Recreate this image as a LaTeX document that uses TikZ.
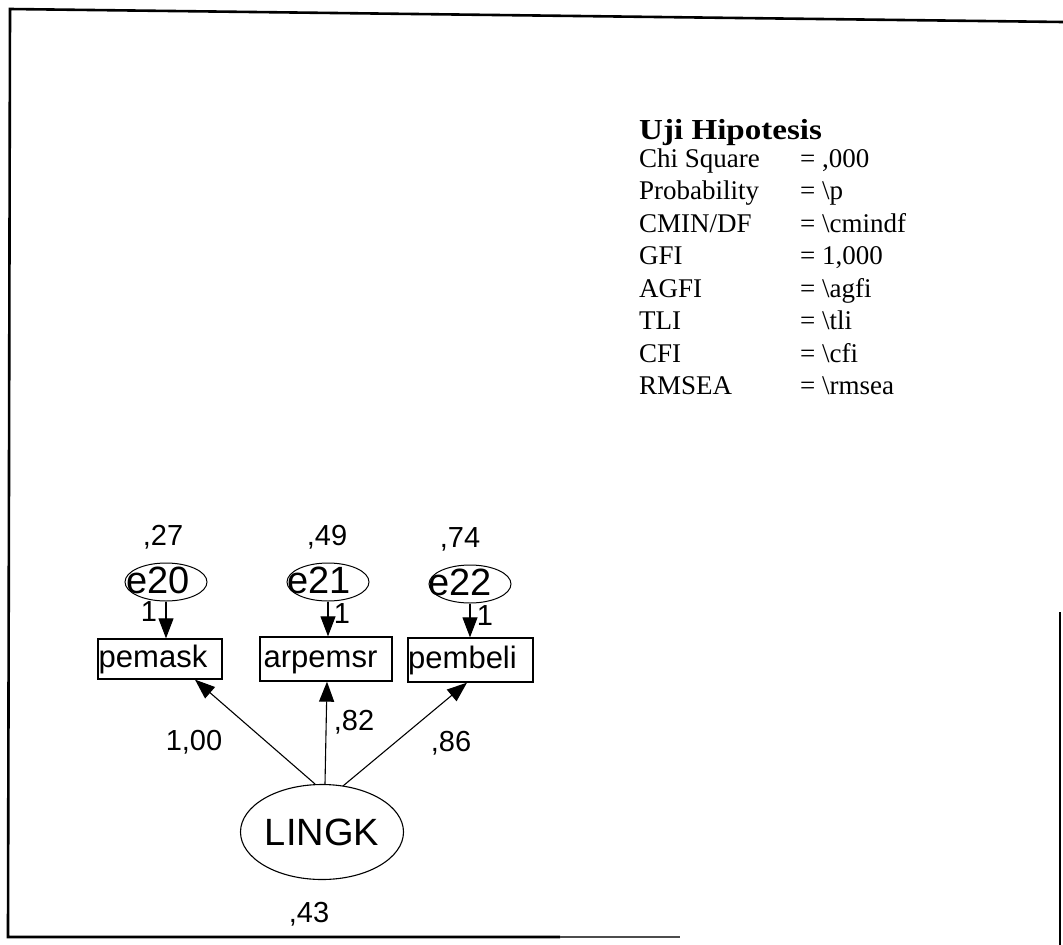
\documentclass[tikz,border=0pt]{standalone}
\usepackage{fontspec}
\setmainfont{Liberation Serif}
\newfontfamily\arialf{Liberation Sans}
\usetikzlibrary{arrows.meta,shapes.geometric,calc}
\begin{document}
\begin{tikzpicture}[x=1pt,y=-1pt,
  arr/.style={-{Triangle[length=20pt,width=15pt]}, line width=1.1pt},
  num/.style={font=\arialf\fontsize{29pt}{33pt}\selectfont, inner sep=0pt},
  errell/.style={draw, ellipse, line width=1pt, inner sep=0pt, minimum width=82pt, minimum height=38pt,
     font=\arialf\fontsize{38pt}{42pt}\selectfont},
  obsbox/.style={draw, rectangle, line width=1.3pt, inner sep=0pt, text height=23pt, text depth=7pt,
     font=\arialf\fontsize{31pt}{35pt}\selectfont},
  frameline/.style={line width=2.6pt},
  stat/.style={font=\fontsize{27pt}{31pt}\selectfont, inner sep=0pt, anchor=base west}
]
\useasboundingbox (0,0) rectangle (1063,945);

% frame
\draw[frameline] (1063,22) -- (10,9) -- (8,937) -- (560,937);
\draw[line width=1.6pt, black!70] (560,937) -- (680,937);
\draw[frameline] (1060,612) -- (1060,945);

% statistics
\node[stat] (head) at (639,139) {\fontsize{29pt}{33pt}\selectfont\scalebox{1.14}[1]{\bfseries Uji Hipotesis}};
\foreach \lab/\val [count=\i from 0] in {Chi Square/{,000}, Probability/\textbackslash p,
   {CMIN/DF}/\textbackslash cmindf, GFI/{1,000}, AGFI/\textbackslash agfi,
   TLI/\textbackslash tli, CFI/\textbackslash cfi, RMSEA/\textbackslash rmsea}{
  \node[stat] (l\i) at (639,{167+32.5*\i}) {\lab};
  \node[stat] (q\i) at (800,{167+32.5*\i}) {=};
  \node[stat] (v\i) at (822,{167+32.5*\i}) {\val};
}

% error terms
\node[num] (v20) at (163,537) {,27};
\node[num] (v21) at (327,537) {,49};
\node[num] (v22) at (460,539) {,74};
\node[errell] (e20) at (166,582) {\smash{\makebox[0pt]{\hspace*{-16pt}\raisebox{-11pt}{e20}}}};
\node[errell] (e21) at (328,582) {\smash{\makebox[0pt]{\hspace*{-18pt}\raisebox{-11pt}{e21}}}};
\node[errell] (e22) at (470,584) {\smash{\makebox[0pt]{\hspace*{-20pt}\raisebox{-11pt}{e22}}}};

% observed variables
\node[obsbox, minimum width=124pt, minimum height=40pt] (pemask) at (160,659) {pemask\hspace*{14pt}};
\node[obsbox, minimum width=132pt, minimum height=44pt] (arpemsr) at (326,659) {arpemsr\hspace*{11pt}};
\node[obsbox, minimum width=125pt, minimum height=44pt] (pembeli) at (470.5,660) {pembeli\hspace*{16pt}};

% error arrows
\draw[arr] (e20.south) -- (e20.south |- pemask.north);
\draw[arr] (e21.south) -- (e21.south |- arpemsr.north);
\draw[arr] (e22.south) -- (e22.south |- pembeli.north);
\node[num] (w20) at (149,612) {1};
\node[num] (w21) at (342,614) {1};
\node[num] (w22) at (485,616) {1};

% latent variable
\node[draw, ellipse, line width=1.1pt, minimum width=163pt, minimum height=95pt, inner sep=0pt,
  font=\arialf\fontsize{38pt}{42pt}\selectfont] (lingk) at (322,832) {LINGK};

\draw[arr] ($(lingk.north)+(-7,0)$) -- ($(pemask.south)+(35,0)$);
\draw[arr] ($(lingk.north)+(3,0)$) -- ($(arpemsr.south)+(1,0)$);
\draw[arr] ($(lingk.north)+(21,2)$) -- ($(pembeli.south)+(-3.5,0)$);

\node[num] (l1) at (194,742) {1,00};
\node[num] (l2) at (354,722) {,82};
\node[num] (l3) at (451,743) {,86};
\node[num] (l4) at (309,914) {,43};
\end{tikzpicture}
\end{document}
